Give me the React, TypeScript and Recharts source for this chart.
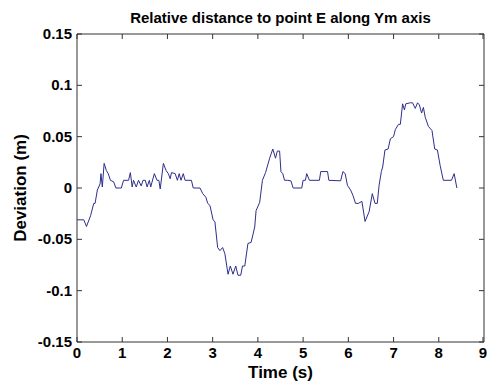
import React from "react"
import { Label, Line, LineChart, ReferenceLine, XAxis, YAxis } from "recharts"

// time stamps (s) and deviation (m)
const times = [
  0, 0.15, 0.21, 0.3, 0.37, 0.4, 0.45, 0.51, 0.53, 0.56, 0.6, 0.65, 0.69, 0.74, 0.81, 0.86, 0.98,
  1.03, 1.14, 1.18, 1.22, 1.25, 1.31, 1.36, 1.42, 1.46, 1.51, 1.55, 1.6, 1.63, 1.71, 1.77, 1.81, 1.84, 1.91, 1.97,
  2.02, 2.06, 2.09, 2.17, 2.22, 2.26, 2.3, 2.35, 2.39, 2.53, 2.57, 2.72, 2.78, 2.85, 2.89, 2.94,
  3.01, 3.05, 3.11, 3.16, 3.22, 3.27, 3.34, 3.39, 3.45, 3.51, 3.56, 3.62, 3.66, 3.71, 3.78, 3.85, 3.93, 3.96,
  4.04, 4.1, 4.17, 4.26, 4.33, 4.39, 4.43, 4.48, 4.51, 4.55, 4.59, 4.66, 4.73, 4.78, 4.97,
  5.0, 5.05, 5.08, 5.14, 5.36, 5.39, 5.54, 5.57, 5.83, 5.88, 5.93, 5.98,
  6.05, 6.1, 6.16, 6.22, 6.3, 6.37, 6.46, 6.53, 6.59, 6.64, 6.68, 6.73, 6.76, 6.81, 6.88, 6.93,
  7.0, 7.04, 7.11, 7.15, 7.2, 7.24, 7.27, 7.37, 7.42, 7.48, 7.53, 7.57, 7.62, 7.66, 7.7, 7.77, 7.85, 7.91, 7.97,
  8.03, 8.1, 8.28, 8.34, 8.4,
]
const deviation = [
  -0.031, -0.031, -0.0375, -0.027, -0.015, -0.015, -0.002, 0.004, 0.014, 0.001, 0.024, 0.017, 0.014, 0.0075, 0.006, 0, 0,
  0.0075, 0.0075, 0.015, 0.001, 0.0075, 0.001, 0.0075, 0.002, 0.0075, 0.0075, 0.001, 0.0075, 0.001, 0.014, 0.0075, 0.0075, -0.001, 0.024, 0.017,
  0.014, 0.009, 0.015, 0.014, 0.0075, 0.014, 0.0075, 0.014, 0.0075, 0.0075, 0, 0, -0.0055, -0.009, -0.015, -0.017,
  -0.031, -0.033, -0.058, -0.061, -0.058, -0.064, -0.084, -0.076, -0.084, -0.076, -0.085, -0.085, -0.076, -0.076, -0.054, -0.053, -0.038, -0.022,
  -0.014, 0.0075, 0.015, 0.029, 0.038, 0.029, 0.036, 0.036, 0.016, 0.014, 0.0075, 0.0075, 0.007, 0, 0,
  0.0075, 0.0075, 0.014, 0.0075, 0.0075, 0.016, 0.016, 0.0075, 0.007, 0.016, 0.014, 0.0026,
  -0.002, -0.007, -0.015, -0.015, -0.013, -0.0326, -0.023, -0.0055, -0.015, -0.015, 0.0026, 0.016, 0.0205, 0.037, 0.038, 0.048,
  0.05, 0.057, 0.062, 0.062, 0.082, 0.076, 0.082, 0.083, 0.083, 0.0775, 0.083, 0.081, 0.073, 0.0785, 0.069, 0.06, 0.056, 0.038, 0.037,
  0.022, 0.0075, 0.0075, 0.014, 0,
]

const xTicks = [0, 1, 2, 3, 4, 5, 6, 7, 8, 9]
const yTicks = [-0.15, -0.1, -0.05, 0, 0.05, 0.1, 0.15]

const rows = times.map((t, i) => ({ t, v: deviation[i] }))

const W = 487
const H = 384
const margin = { top: 34, right: 3, bottom: 0, left: 1 }
const xAxisH = 42
const yAxisW = 76
// plot box edges, matlab style box with inward ticks on all four sides
const plotTop = margin.top
const plotBottom = H - margin.bottom - xAxisH
const plotLeft = margin.left + yAxisW
const plotRight = W - margin.right
const tickLen = 5

const font = '"Liberation Sans", Arial, sans-serif'
const axisColor = "#333"
const textProps = { fill: "#000", fontWeight: "bold", fontFamily: font }

const XTick = (p: any) => (
  <g>
    <line x1={p.x} x2={p.x} y1={plotBottom} y2={plotBottom - tickLen} stroke={axisColor} />
    <line x1={p.x} x2={p.x} y1={plotTop} y2={plotTop + tickLen} stroke={axisColor} />
    <text x={p.x} y={plotBottom + 16} textAnchor="middle" fontSize={15} {...textProps}>
      {p.payload.value}
    </text>
  </g>
)

const YTick = (p: any) => (
  <g>
    <line x1={plotLeft} x2={plotLeft + tickLen} y1={p.y} y2={p.y} stroke={axisColor} />
    <line x1={plotRight} x2={plotRight - tickLen} y1={p.y} y2={p.y} stroke={axisColor} />
    <text x={plotLeft - 5} y={p.y + 5} textAnchor="end" fontSize={15} {...textProps}>
      {String(p.payload.value)}
    </text>
  </g>
)

const YLabel = () => {
  const cx = 20
  const cy = (plotTop + plotBottom) / 2
  return (
    <text
      x={cx}
      y={cy}
      transform={`rotate(-90 ${cx} ${cy})`}
      textAnchor="middle"
      dominantBaseline="central"
      fontSize={17}
      {...textProps}
    >
      Deviation (m)
    </text>
  )
}

const Title = () => (
  <text x={(plotLeft + plotRight) / 2} y={23} textAnchor="middle" fontSize={15} {...textProps}>
    Relative distance to point E along Ym axis
  </text>
)

export default function App() {
  return (
    <div style={{ position: "absolute", left: 0, top: 0, width: W, height: H, background: "#fff" }}>
      <LineChart width={W} height={H} data={rows} margin={margin}>
        <XAxis
          dataKey="t"
          type="number"
          domain={[0, 9]}
          ticks={xTicks}
          allowDataOverflow
          height={xAxisH}
          stroke={axisColor}
          tickLine={false}
          tickSize={0}
          tick={XTick}
        >
          <Label value="Time (s)" position="insideBottom" offset={6} fontSize={17} {...textProps} />
        </XAxis>
        <YAxis
          dataKey="v"
          type="number"
          domain={[-0.15, 0.15]}
          ticks={yTicks}
          allowDataOverflow
          width={yAxisW}
          stroke={axisColor}
          tickLine={false}
          tickSize={0}
          tick={YTick}
        >
          <Label content={YLabel} />
          <Label content={Title} />
        </YAxis>
        <ReferenceLine y={0.15} stroke={axisColor} />
        <ReferenceLine x={9} stroke={axisColor} />
        <Line
          dataKey="v"
          type="linear"
          stroke="#2e2e8c"
          strokeWidth={1}
          dot={false}
          isAnimationActive={false}
        />
      </LineChart>
    </div>
  )
}
